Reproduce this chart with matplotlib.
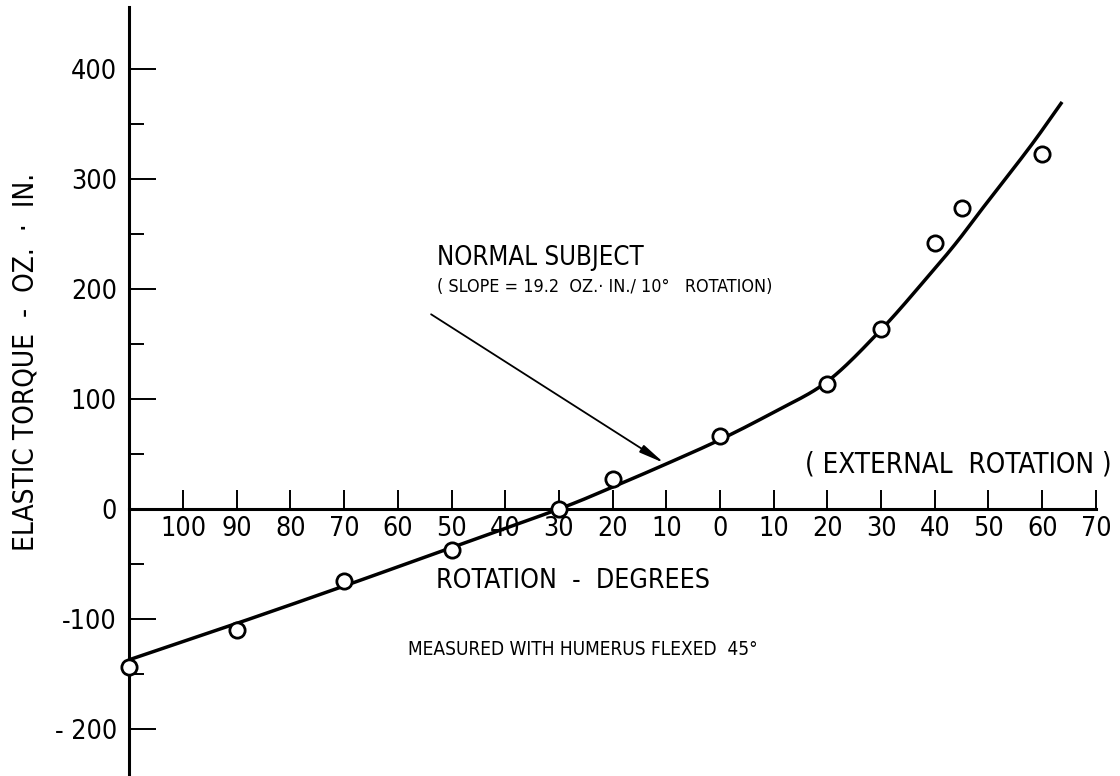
import matplotlib
matplotlib.use("Agg")
import numpy as np
import matplotlib.pyplot as plt
from matplotlib import font_manager
from matplotlib.font_manager import FontProperties
from matplotlib.ticker import FixedLocator

# ---- data ----
rotation_deg = [-110, -90, -70, -50, -30, -20, 0, 20, 30, 40, 45, 60]
torque = [-144, -110, -65, -37, 0, 27, 66, 114, 164, 242, 274, 323]

curve_x = [-110, -90, -70, -50, -30, -20, -10, 0, 10, 20, 30, 38.5, 44, 49, 57.7, 63.7]
curve_y = [-137, -104, -70, -35, 0, 20, 41, 63, 88, 116, 163, 210, 242, 274, 329, 370]

x_tick_pos = [-100, -90, -80, -70, -60, -50, -40, -30, -20, -10, 0, 10, 20, 30, 40, 50, 60, 70]
x_tick_labels = ["100", "90", "80", "70", "60", "50", "40", "30", "20", "10",
                 "0", "10", "20", "30", "40", "50", "60", "70"]
y_tick_pos = [-200, -100, 0, 100, 200, 300, 400]
y_tick_labels = ["- 200", "-100", "0", "100", "200", "300", "400"]
y_minor_pos = [-150, -50, 50, 150, 250, 350]


def _is_condensed(f):
    s = f.stretch
    if isinstance(s, str):
        return s in ("condensed", "semi-condensed", "extra-condensed", "ultra-condensed")
    try:
        return float(s) < 100
    except Exception:
        return False


def _is_regular(f):
    w = f.weight
    try:
        w = int(w)
    except Exception:
        w = 400 if str(w).lower() in ("normal", "regular", "book") else 0
    return w in (400, 500) and f.style == "normal"


cands = [f for f in font_manager.fontManager.ttflist
         if _is_condensed(f) and _is_regular(f)]
cands.sort(key=lambda f: (0 if "Sans" in f.name else 1,
                          0 if f.stretch in ("condensed", 75) else 1, f.name))
if cands:
    FP = FontProperties(fname=cands[0].fname)
else:
    names = {f.name for f in font_manager.fontManager.ttflist}
    FP = FontProperties(family="Liberation Sans" if "Liberation Sans" in names else "DejaVu Sans")


def catmull_rom(xs, ys, n=20):
    p = np.column_stack([xs, ys]).astype(float)
    p = np.vstack([2 * p[0] - p[1], p, 2 * p[-1] - p[-2]])
    out = []
    t = np.linspace(0, 1, n, endpoint=False)[:, None]
    for i in range(1, len(p) - 2):
        p0, p1, p2, p3 = p[i - 1], p[i], p[i + 1], p[i + 2]
        seg = 0.5 * ((2 * p1) + (-p0 + p2) * t + (2 * p0 - 5 * p1 + 4 * p2 - p3) * t ** 2
                     + (-p0 + 3 * p1 - 3 * p2 + p3) * t ** 3)
        out.append(seg)
    out.append(p[-2][None, :])
    out = np.vstack(out)
    return out[:, 0], out[:, 1]


fig = plt.figure(figsize=(11.2, 7.76), dpi=100)
ax = fig.add_axes([0, 0, 1, 1])
ax.set_xlim(-134.08, 74.49)
ax.set_ylim(-242.7, 462.7)
ax.patch.set_visible(False)

for s in ("top", "right"):
    ax.spines[s].set_visible(False)
ax.spines["left"].set_position(("data", -110))
ax.spines["bottom"].set_position(("data", 0))
ax.spines["left"].set_bounds(-245, 456)
ax.spines["bottom"].set_bounds(-110, 70)
ax.spines["left"].set_linewidth(2.2)
ax.spines["bottom"].set_linewidth(2.2)

ax.xaxis.set_major_locator(FixedLocator(x_tick_pos))
ax.set_xticklabels(x_tick_labels, fontproperties=FP)
ax.yaxis.set_major_locator(FixedLocator(y_tick_pos))
ax.set_yticklabels(y_tick_labels, fontproperties=FP)
ax.yaxis.set_minor_locator(FixedLocator(y_minor_pos))
ax.tick_params(axis="x", direction="in", length=13.7, width=1.4, pad=5, labelsize=20)
ax.tick_params(axis="y", which="major", direction="in", length=19.4, width=1.4, pad=9, labelsize=20)
ax.tick_params(axis="y", which="minor", direction="in", length=10.8, width=1.4)

cx, cy = catmull_rom(curve_x, curve_y)
ax.plot(cx, cy, color="black", lw=2.5, solid_capstyle="butt",
        solid_joinstyle="round", zorder=3)
ax.plot(rotation_deg, torque, linestyle="none", marker="o", markersize=11,
        markerfacecolor="white", markeredgecolor="black", markeredgewidth=2.0, zorder=4)

ax.annotate("", xy=(-10.4, 41.8), xytext=(-53.8, 177),
            arrowprops=dict(arrowstyle="-|>,head_length=1.5,head_width=0.25",
                            color="black", lw=1.3, shrinkA=0, shrinkB=0))


def T(x, y, s, size, width_px, **kw):
    t = ax.text(x, y, s, fontproperties=FP, **kw)
    t.set_fontsize(size)
    return (t, width_px)


# (text, size chosen from the reference cap height, width measured on the reference)
texts = [
    T(-52.7, 221.8, "NORMAL SUBJECT", 18, 213, va="baseline", ha="left"),
    T(-52.7, 197.3, "( SLOPE = 19.2  OZ.\u00b7 IN./ 10\u00b0   ROTATION)", 12.6, 343,
      va="baseline", ha="left"),
    T(15.8, 33.6, "( EXTERNAL  ROTATION )", 21, 290, va="baseline", ha="left"),
    T(-27.4, -71.8, "ROTATION  -  DEGREES", 20, 260, va="baseline", ha="center"),
    T(7.1, -132.7, "MEASURED WITH HUMERUS FLEXED  45\u00b0", 14, 346, va="baseline", ha="right"),
    T(-129.4, 133.6, "ELASTIC TORQUE  -  OZ.  \u00b7  IN.", 22, 345, rotation=90,
      va="center", ha="center"),
]

# blend the cap-height size with the size that reproduces the reference width
fig.canvas.draw()
r = fig.canvas.get_renderer()
for t, w in texts:
    bb = t.get_window_extent(r)
    length = bb.height if t.get_rotation() == 90 else bb.width
    s0 = t.get_fontsize()
    sw = s0 * w / length
    t.set_fontsize(np.sqrt(s0 * sw))

lab = ax.get_xticklabels()[0]
bb = lab.get_window_extent(r)
tick_w = 20 * 40.0 / bb.width
tick_size = np.sqrt(tick_w * 22.0)
ax.tick_params(axis="both", which="major", labelsize=tick_size)

fig.savefig("out.png", dpi=100)
